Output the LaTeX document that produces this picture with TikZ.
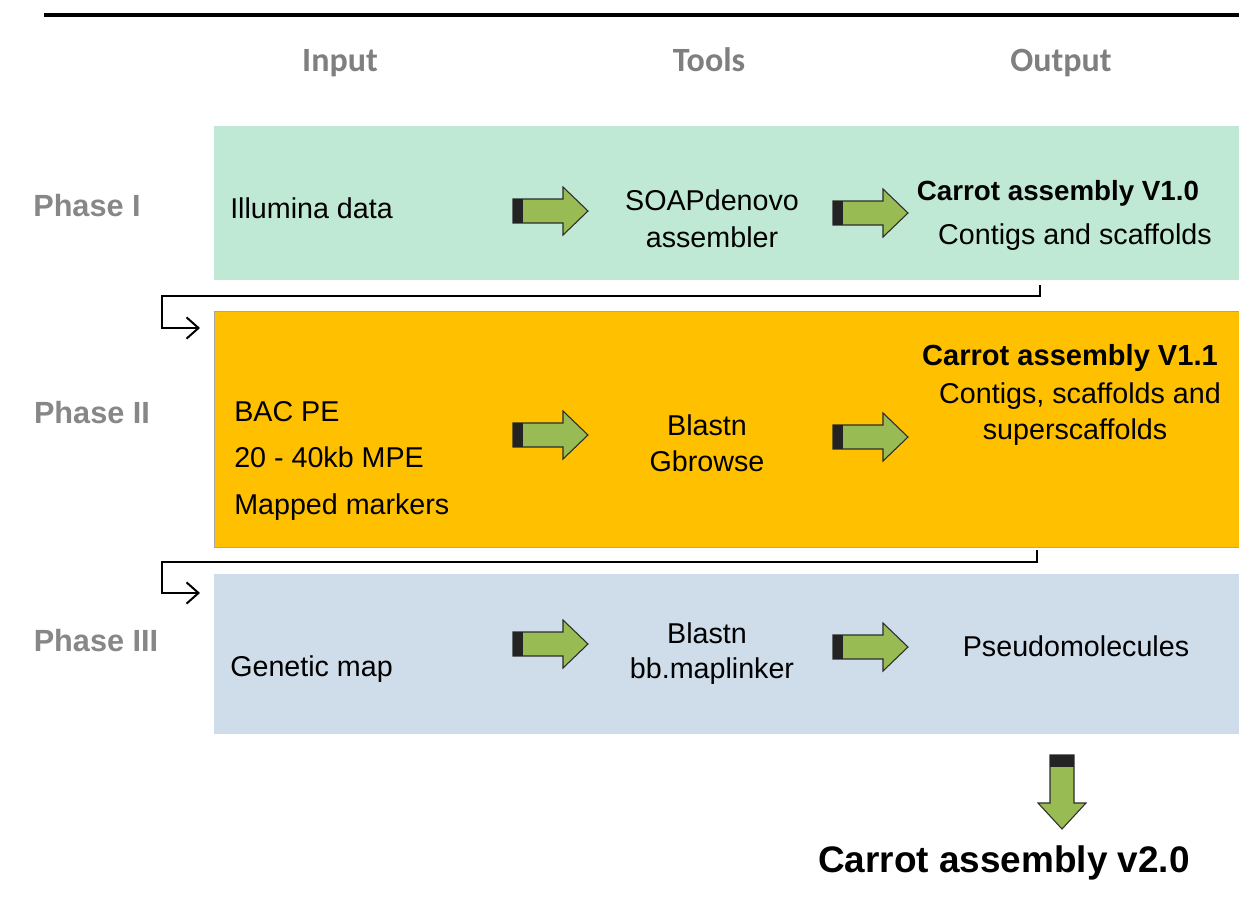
\documentclass[tikz,border=0pt]{standalone}
\usepackage{fontspec}
\setmainfont{Liberation Sans}
\newfontfamily\calib{Carlito}
\usetikzlibrary{arrows.meta}
\definecolor{hdrgray}{RGB}{127,127,127}
\definecolor{phgray}{RGB}{135,135,135}
\definecolor{greenbg}{RGB}{191,233,212}
\definecolor{orangebg}{RGB}{255,192,0}
\definecolor{bluebg}{RGB}{207,220,234}
\definecolor{arrowgreen}{RGB}{152,187,84}
\definecolor{arrowedge}{RGB}{45,45,45}
\definecolor{arrowdark}{RGB}{35,35,35}
\tikzset{
  txt/.style={inner sep=0, anchor=mid, yshift=-5.3pt},
  hdr/.style={txt, font=\calib\bfseries\fontsize{25.5}{30}\selectfont, text=hdrgray, yshift=-0.7pt},
  phase/.style={txt, font=\bfseries\fontsize{23}{28}\selectfont, text=phgray},
  body/.style={txt, font=\fontsize{21.5}{27.75}\selectfont},
  bodyl/.style={body, anchor=mid west},
  outb/.style={txt, font=\bfseries\fontsize{20.8}{26}\selectfont},
  phasebox/.style={anchor=north west, inner sep=0, outer sep=0, draw=none},
  conn/.style={line width=1.5pt, -{Straight Barb[length=9pt,width=16pt,line width=1.5pt]}},
  barrow/.pic={
    \filldraw[fill=arrowgreen, draw=arrowedge, line width=0.8pt]
      (0,-12) -- (50,-12) -- (50,-24) -- (75,0) -- (50,24) -- (50,12) -- (0,12) -- cycle;
    \fill[arrowdark] (0,-12) rectangle (10,12);
  },
  darrow/.pic={
    \filldraw[fill=arrowgreen, draw=arrowedge, line width=0.8pt]
      (-12,0) -- (-12,48) -- (-24,48) -- (0,74) -- (24,48) -- (12,48) -- (12,0) -- cycle;
    \fill[arrowdark] (-12,0) rectangle (12,12);
  }
}
\begin{document}
\begin{tikzpicture}[x=0.75pt, y=-0.75pt]
\useasboundingbox (0,0) rectangle (1239,922);
% top rule
\draw[line width=3pt] (44,14.5) -- (1239,14.5);
% headers
\node[hdr] (hin) at (340,60) {Input};
\node[hdr] (htools) at (709,60) {Tools};
\node[hdr] (hout) at (1061,60) {Output};
% phase boxes
\node[phasebox, fill=greenbg, minimum width=768.75pt, minimum height=115.5pt] (p1) at (214,126) {};
\node[phasebox, fill=orangebg, draw=black!35, line width=0.4pt, minimum width=768.75pt, minimum height=177pt] (p2) at (214,311) {};
\node[phasebox, fill=bluebg, minimum width=768.75pt, minimum height=120pt] (p3) at (214,574) {};
% phase labels
\node[phase] (ph1) at (87,206) {Phase I};
\node[phase] (ph2) at (92,413) {Phase II};
\node[phase] (ph3) at (96,641) {Phase III};
% Phase I texts
\node[bodyl] (in1) at (230,208) {Illumina data};
\node[body] (t1a) at (712,200) {SOAPdenovo};
\node[body] (t1b) at (712,237) {assembler};
\node[outb] (o1a) at (1058,190) {Carrot assembly V1.0};
\node[body] (o1b) at (1075,234) {Contigs and scaffolds};
% Phase II texts
\node[bodyl] (in2a) at (234,411) {BAC PE};
\node[bodyl] (in2b) at (234,457) {20 - 40kb MPE};
\node[bodyl] (in2c) at (234,504) {Mapped markers};
\node[body] (t2a) at (707,425) {Blastn};
\node[body] (t2b) at (707,461) {Gbrowse};
\node[outb, font=\bfseries\fontsize{21.8}{26}\selectfont] (o2a) at (1070,355) {Carrot assembly V1.1};
\node[body] (o2b) at (1080,393) {Contigs, scaffolds and};
\node[body] (o2c) at (1075,429) {superscaffolds};
% Phase III texts
\node[bodyl] (in3) at (230,666) {Genetic map};
\node[body] (t3a) at (707,633) {Blastn};
\node[body] (t3b) at (712,668) {bb.maplinker};
\node[body] (o3) at (1076,646) {Pseudomolecules};
% final
\node[txt, font=\bfseries\fontsize{27.7}{32}\selectfont] (final) at (1004,862) {Carrot assembly v2.0};
% block arrows
\pic (a11) at (513,211) {barrow};
\pic (a12) at (833,213) {barrow};
\pic (a21) at (513,435) {barrow};
\pic (a22) at (833,437) {barrow};
\pic (a31) at (513,644) {barrow};
\pic (a32) at (833,647) {barrow};
\pic (ad) at (1062,755) {darrow};
% connectors
\coordinate (c1s) at (1040,285);
\coordinate (c1e) at (200,328);
\coordinate (c2s) at (1037,550);
\coordinate (c2e) at (200,593);
\draw[conn] (c1s) -- (1040,296) -- (162,296) -- (162,328) -- (c1e);
\draw[conn] (c2s) -- (1037,562) -- (162,562) -- (162,593) -- (c2e);
\end{tikzpicture}
\end{document}
